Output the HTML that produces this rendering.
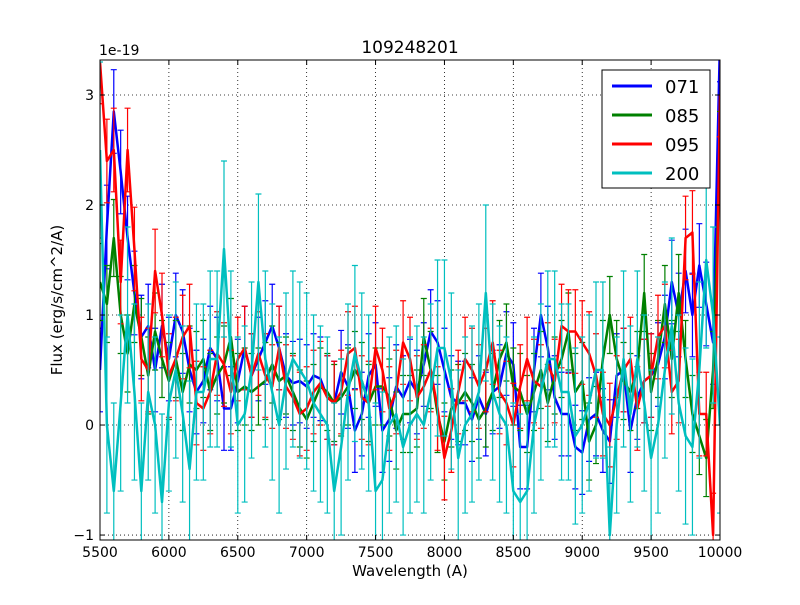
<!DOCTYPE html>
<html><head><meta charset="utf-8"><style>
body{margin:0;background:#fff}
text{font-family:"DejaVu Sans","Liberation Sans",sans-serif}
</style></head><body>
<svg id="chart" width="800" height="600" xmlns="http://www.w3.org/2000/svg">
<rect width="800" height="600" fill="#fff"/>
<defs><clipPath id="clip"><rect x="100" y="60" width="620" height="480"/></clipPath></defs>
<g id="grid"></g>
<g id="series" clip-path="url(#clip)"></g>
<rect x="100" y="60" width="620" height="480" fill="none" stroke="#000" stroke-width="1"/>
<g id="axes"></g>
<text x="410" y="53" font-size="17" text-anchor="middle">109248201</text>
<text x="99" y="55" font-size="14">1e-19</text>
<text x="410" y="576" font-size="15" text-anchor="middle">Wavelength (A)</text>
<text transform="translate(62,300) rotate(-90)" font-size="15" text-anchor="middle">Flux (erg/s/cm^2/A)</text>
<g>
<rect x="602" y="70" width="108" height="118" fill="#fff" stroke="#000"/>
<g id="legend"></g>
</g>
</svg>
<script>
const seriesNames=["071","085","095","200"];
const colors=["#0000ff","#008000","#ff0000","#00bfbf"];
const errs=[0.38,0.35,0.38,0.8];
const blue=[0.5,1.8,2.85,2.3,1.7,1.2,0.8,0.9,0.5,0.9,0.6,1.0,0.85,0.5,0.3,0.4,0.7,0.6,0.15,0.15,0.4,0.7,0.45,0.6,0.75,0.9,0.7,0.45,0.38,0.4,0.35,0.45,0.42,0.25,0.2,0.48,0.35,-0.05,0.1,0.45,0.55,-0.05,0.05,0.35,0.25,0.4,0.3,0.55,0.85,0.75,0.5,0.25,0.2,0.2,0.05,0.25,0.1,0.3,0.35,0.65,0.55,-0.2,-0.2,0.5,1.0,0.7,0.25,0.1,0.1,-0.2,-0.25,0.05,0.1,-0.05,-0.15,0.45,0.5,-0.05,0.25,0.4,0.45,0.55,0.8,1.3,1.0,1.4,1.0,1.45,1.1,0.75,3.5];
const green=[1.3,1.1,1.7,1.0,0.65,1.1,0.8,0.45,0.85,0.6,0.4,0.6,0.3,0.55,0.5,0.6,0.3,0.45,0.55,0.8,0.3,0.35,0.3,0.35,0.4,0.55,0.4,0.45,0.3,0.15,0.05,0.2,0.35,0.3,0.2,0.25,0.35,0.5,0.4,0.2,0.35,0.35,0.25,-0.05,0.1,0.1,0.15,0.8,0.5,0.1,-0.15,0.15,0.2,0.3,0.2,0.05,0.15,0.3,0.6,0.75,0.35,0.3,0.1,0.3,0.5,0.2,0.45,0.6,0.85,0.3,0.4,-0.15,0.0,0.6,1.0,0.6,0.4,0.3,0.5,1.2,0.3,0.6,1.1,0.6,1.2,0.6,0.1,-0.1,-0.3,0.5,2.5];
const red=[3.3,2.4,2.5,1.3,2.5,1.6,0.6,0.5,1.4,1.0,0.45,0.6,0.8,0.9,0.2,0.15,0.3,0.65,0.55,0.3,0.6,0.7,0.45,0.65,0.45,0.35,0.7,0.35,0.25,0.1,0.15,0.3,0.38,0.25,0.2,0.3,0.65,0.7,0.25,0.2,0.7,0.5,0.15,0.3,0.75,0.6,0.25,0.35,0.5,0.15,-0.3,-0.05,0.3,0.6,0.5,0.35,0.5,0.75,0.3,0.2,0.0,0.35,0.6,0.4,0.35,0.55,0.4,0.9,0.85,0.85,0.75,0.65,0.45,0.1,0.0,0.25,0.5,0.6,0.15,0.4,0.45,0.8,0.9,0.3,0.4,1.7,1.75,0.1,0.1,-1.0,3.0];
const cyan=[2.5,0.0,-0.6,0.2,1.0,0.3,-0.6,0.3,0.0,-0.7,0.2,0.5,0.1,-0.4,0.3,0.3,0.6,0.6,1.6,0.6,0.0,0.1,0.5,1.3,0.6,0.3,0.0,0.4,0.6,0.5,0.4,0.2,0.1,0.0,-0.6,-0.2,0.3,0.65,0.4,0.2,-0.6,-0.5,0.0,0.1,-0.2,0.0,0.1,0.0,0.3,0.7,0.7,0.4,-0.3,0.0,0.1,0.3,1.2,0.3,0.1,0.0,-0.6,-0.7,-0.6,0.0,0.3,0.6,0.6,0.3,0.3,-0.1,0.0,0.2,0.5,0.5,-1.0,0.0,0.6,0.1,0.6,0.2,-0.3,0.0,0.5,0.9,0.2,-0.1,-0.2,0.5,1.5,1.0,0.0];
const xTicks=[5500,6000,6500,7000,7500,8000,8500,9000,9500,10000];
const yTicks=[-1,0,1,2,3];
const X0=5500,X1=10000,Y0=-1.045,Y1=3.318;
const NS="http://www.w3.org/2000/svg";
function sx(v){return 100+(v-X0)/(X1-X0)*620;}
function sy(v){return 540-(v-Y0)/(Y1-Y0)*480;}
function mk(tag,attrs,parent){const e=document.createElementNS(NS,tag);for(const k in attrs)e.setAttribute(k,attrs[k]);parent.appendChild(e);return e;}
const grid=document.getElementById('grid'),axes=document.getElementById('axes'),ser=document.getElementById('series'),leg=document.getElementById('legend');
xTicks.forEach(t=>{const x=sx(t);
 const g=mk('line',{x1:x,x2:x,y1:60,y2:540,stroke:'#000','stroke-dasharray':'1,3','stroke-width':0.8},grid);
 
 
 mk('line',{x1:x,x2:x,y1:540,y2:535,stroke:'#000'},axes);
 mk('line',{x1:x,x2:x,y1:60,y2:65,stroke:'#000'},axes);
 const l=mk('text',{x:x,y:557,'font-size':14,'text-anchor':'middle'},axes);l.textContent=t;
 
 
});
yTicks.forEach(t=>{const y=sy(t);
 const g=mk('line',{x1:100,x2:720,y1:y,y2:y,stroke:'#000','stroke-dasharray':'1,3','stroke-width':0.8},grid);
 
 
 mk('line',{x1:100,x2:105,y1:y,y2:y,stroke:'#000'},axes);
 mk('line',{x1:715,x2:720,y1:y,y2:y,stroke:'#000'},axes);
 const l=mk('text',{x:94,y:y+5,'font-size':14,'text-anchor':'end'},axes);l.textContent=(t<0?'\u2212':'')+Math.abs(t);
 
 
});
[blue,green,red,cyan].forEach((arr,i)=>{
 const g=mk('g',{},ser);
 
 
 const step=(X1-X0)/(arr.length-1);
 arr.forEach((v,j)=>{const x=sx(X0+j*step);const e=errs[i];
  const eb=mk('path',{d:`M${x},${sy(v-e)}V${sy(v+e)}M${x-3},${sy(v-e)}h6M${x-3},${sy(v+e)}h6`,stroke:colors[i],'stroke-width':1.2,fill:'none'},g);
  
  
 });
 const pts=arr.map((v,j)=>sx(X0+j*step).toFixed(1)+','+sy(v).toFixed(1)).join(' ');
 const pl=mk('polyline',{points:pts,fill:'none',stroke:colors[i],'stroke-width':2.5,'stroke-linejoin':'round'},g);
 
 
});
seriesNames.forEach((n,i)=>{const y=86+i*29;
 const ln=mk('line',{x1:612,x2:652,y1:y,y2:y,stroke:colors[i],'stroke-width':3},leg);
 
 
 const t=mk('text',{x:665,y:y+7,'font-size':18},leg);t.textContent=n;
 
 
});
</script>
</body></html>
